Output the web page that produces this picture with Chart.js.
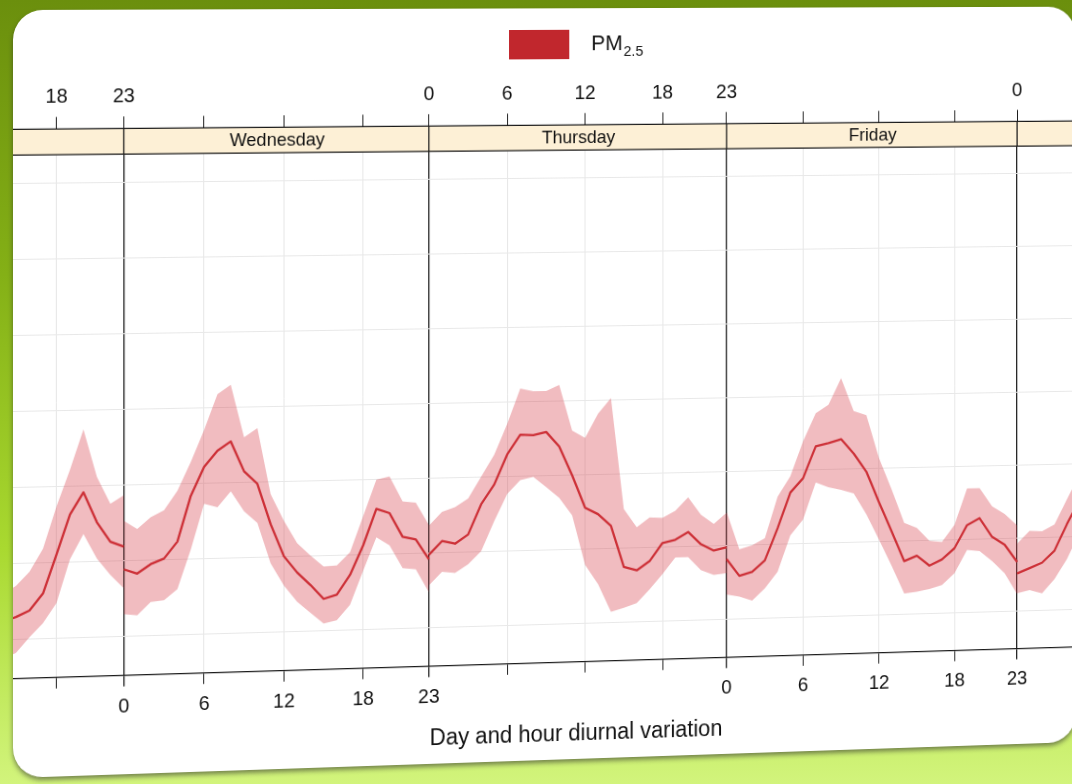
<!DOCTYPE html>
<html>
<head>
<meta charset="utf-8">
<script src="https://cdn.jsdelivr.net/npm/chart.js@4.4.1/dist/chart.umd.min.js"></script>
<style>
  html, body { margin: 0; padding: 0; width: 1072px; height: 784px; overflow: hidden; }
  body {
    position: relative;
    background: linear-gradient(to bottom, #6b8f0d 0%, #84b016 35%, #a9d930 70%, #d2f47c 100%);
  }
  #card {
    position: absolute; left: 13px; top: 10px; width: 1112px; height: 768px;
    background: #fff; border-radius: 30px; overflow: hidden;
    transform-origin: 0 394px;
    transform: perspective(1500px) rotateY(3.44deg) skewY(-1.08deg);
    box-shadow: 0 3px 5px rgba(40, 40, 40, 0.55);
  }
  #wrap { position: absolute; left: 0; top: 0; width: 1156px; height: 768px; }
</style>
</head>
<body>
<div id="card"><div id="wrap"><canvas id="grafico"></canvas></div></div>
<script>
// days shown left to right (Tuesday and Saturday are cut off by the frame)
const days = ['Tuesday', 'Wednesday', 'Thursday', 'Friday', 'Saturday'];
const hourTicks = [0, 6, 12, 18, 23];
const yGrid = [10, 20, 30, 40, 50, 60, 70];

const tueHours = [14, 15, 16, 17, 18, 19, 20, 21, 22, 23];
const tueMean  = [12.4, 13.0, 13.8, 16.0, 21.1, 26.3, 29.2, 25.2, 22.6, 21.9];
const tueUpper = [16.0, 17.1, 18.9, 21.9, 27.4, 32.2, 37.5, 31.2, 27.6, 28.7];
const tueLower = [7.5, 8.3, 10.3, 12.1, 14.7, 20.4, 23.7, 20.4, 18.2, 16.4];

const fullHours = [0, 1, 2, 3, 4, 5, 6, 7, 8, 9, 10, 11, 12, 13, 14, 15, 16, 17, 18, 19, 20, 21, 22, 23];

const wedMean  = [18.9, 18.3, 19.5, 20.2, 22.4, 28.4, 32.2, 34.3, 35.5, 31.5, 29.8, 24.4, 20.1, 17.9, 16.2, 14.3, 14.8, 17.4, 21.3, 26.1, 25.5, 22.3, 21.9, 19.2];
const wedUpper = [25.3, 24.2, 25.7, 26.6, 29.1, 32.9, 37.1, 41.8, 43.0, 36.0, 37.2, 28.4, 24.8, 21.8, 20.1, 18.6, 18.7, 20.4, 25.2, 30.0, 30.4, 27.0, 26.8, 23.8];
const wedLower = [13.0, 12.8, 14.5, 14.7, 16.1, 21.3, 27.3, 26.8, 28.9, 26.2, 24.6, 19.2, 16.2, 14.0, 12.5, 11.0, 11.4, 13.4, 17.9, 22.3, 21.2, 18.1, 17.9, 14.8];

const thuMean  = [19.8, 21.6, 21.2, 22.4, 26.4, 29.0, 33.0, 35.6, 35.5, 35.9, 33.9, 30.0, 25.6, 24.7, 23.1, 17.5, 17.0, 18.2, 20.6, 21.0, 22.0, 20.3, 19.4, 19.8];
const thuUpper = [23.7, 25.5, 26.1, 27.2, 30.1, 33.0, 37.1, 41.8, 41.4, 41.4, 42.2, 36.0, 35.0, 38.2, 40.3, 25.3, 22.8, 24.1, 24.0, 24.9, 26.7, 24.3, 23.0, 24.5];
const thuLower = [15.7, 17.5, 17.3, 18.4, 20.1, 24.1, 27.7, 29.5, 29.9, 28.5, 27.0, 24.6, 17.9, 15.3, 11.5, 12.0, 12.6, 14.4, 16.4, 18.6, 18.6, 16.8, 16.1, 16.3];

const friMean  = [18.2, 15.9, 16.4, 17.9, 22.2, 27.0, 28.9, 33.2, 33.6, 34.1, 32.1, 29.6, 25.4, 21.4, 17.3, 18.0, 16.6, 17.4, 18.9, 22.0, 22.9, 20.3, 19.2, 16.8];
const friUpper = [24.6, 19.5, 20.0, 20.9, 26.5, 29.2, 33.9, 37.7, 38.8, 42.4, 37.9, 37.3, 31.4, 27.1, 22.5, 21.8, 20.0, 19.8, 22.1, 27.0, 27.0, 24.5, 23.4, 21.8];
const friLower = [13.4, 13.1, 12.5, 14.1, 16.3, 21.2, 23.3, 28.3, 27.6, 27.2, 26.7, 23.8, 20.3, 16.7, 12.9, 13.1, 13.4, 13.9, 15.5, 18.6, 18.4, 17.0, 15.3, 12.4];

const satHours = [0, 1, 2, 3, 4, 5];
const satMean  = [15.2, 15.9, 16.6, 18.2, 21.8, 25.0];
const satUpper = [19.3, 21.0, 20.9, 21.8, 25.2, 28.5];
const satLower = [12.5, 12.9, 12.4, 14.3, 17.0, 20.5];

const panelSpan = 23;     // each day panel runs 0..23
const stripBase = 73.7;   // bottom of the day strip, in y units

const lineColor = '#c8282d';
const bandColor = 'rgba(214, 64, 74, 0.35)';

const panels = [
  { hours: tueHours,  mean: tueMean, upper: tueUpper, lower: tueLower },
  { hours: fullHours, mean: wedMean, upper: wedUpper, lower: wedLower },
  { hours: fullHours, mean: thuMean, upper: thuUpper, lower: thuLower },
  { hours: fullHours, mean: friMean, upper: friUpper, lower: friLower },
  { hours: satHours,  mean: satMean, upper: satUpper, lower: satLower }
];

const datasets = [];
panels.forEach((pn, p) => {
  const pts = arr => pn.hours.map((h, i) => ({ x: (p - 1) * panelSpan + h, y: arr[i] }));
  datasets.push({ label: 'upper', data: pts(pn.upper), borderColor: 'rgba(0,0,0,0)', borderWidth: 1, pointRadius: 0, fill: false });
  datasets.push({ label: 'lower', data: pts(pn.lower), borderColor: 'rgba(0,0,0,0)', borderWidth: 1, pointRadius: 0, fill: '-1', backgroundColor: bandColor });
  datasets.push({ label: 'PM2.5', data: pts(pn.mean), borderColor: lineColor, borderWidth: 2.3, pointRadius: 0, fill: false, borderJoinStyle: 'round' });
});

const tickValues = [];
days.forEach((d, p) => hourTicks.forEach(h => {
  const v = (p - 1) * panelSpan + h;
  if (!tickValues.includes(v)) tickValues.push(v);
}));

// lattice style: top axis labels the even panels, bottom axis the odd ones
function tickLabel(v, top) {
  const p = Math.floor(v / panelSpan) + 1;
  const h = v - (p - 1) * panelSpan;
  if (h === 0) {
    const prevEven = Math.abs(p - 1) % 2 === 0;
    if (top) return prevEven ? '23' : '0';
    return prevEven ? '0' : '23';
  }
  const even = Math.abs(p) % 2 === 0;
  return top === even ? String(h) : '';
}

const xMin = -8.215;
const xMax = 76.95;

function setTicks(scale) {
  scale.ticks = tickValues.filter(v => v >= scale.min && v <= scale.max).map(v => ({ value: v }));
}

const stripPlugin = {
  id: 'strip',
  beforeDatasetsDraw(chart) {
    const { ctx, chartArea: a, scales } = chart;
    const x = scales.x, y = scales.y;
    const bottom = y.getPixelForValue(stripBase);
    ctx.save();
    ctx.beginPath();
    ctx.rect(a.left, a.top - 2, a.right - a.left, a.bottom - a.top + 4);
    ctx.clip();
    ctx.fillStyle = '#fdf0d6';
    ctx.fillRect(a.left, a.top, a.right - a.left, bottom - a.top);
    ctx.strokeStyle = '#1a1a1a';
    ctx.lineWidth = 1.3;
    ctx.beginPath();
    ctx.moveTo(a.left, a.top); ctx.lineTo(a.right, a.top);
    ctx.moveTo(a.left, bottom); ctx.lineTo(a.right, bottom);
    days.forEach((d, p) => {
      const px = x.getPixelForValue(p * panelSpan);
      ctx.moveTo(px, a.top); ctx.lineTo(px, bottom);
    });
    ctx.stroke();
    ctx.fillStyle = '#111';
    ctx.font = '18.5px "Liberation Sans", Arial, sans-serif';
    ctx.textAlign = 'center';
    ctx.textBaseline = 'middle';
    days.forEach((d, p) => {
      const px = x.getPixelForValue((p - 1) * panelSpan + panelSpan / 2);
      ctx.fillText(d, px, (a.top + bottom) / 2 + 1);
    });
    ctx.restore();
  }
};

const legendPlugin = {
  id: 'pmLegend',
  afterDraw(chart) {
    const ctx = chart.ctx;
    const cx = chart.width / 2;
    ctx.save();
    ctx.fillStyle = '#c1272d';
    ctx.fillRect(cx - 71, 22, 63, 30);
    ctx.fillStyle = '#111';
    ctx.textBaseline = 'middle';
    ctx.textAlign = 'left';
    ctx.font = '22px "Liberation Sans", Arial, sans-serif';
    ctx.fillText('PM', cx + 15, 37);
    const w = ctx.measureText('PM').width;
    ctx.font = '15px "Liberation Sans", Arial, sans-serif';
    ctx.fillText('2.5', cx + 15 + w + 1, 45);
    ctx.restore();
  }
};

Chart.defaults.font.family = '"Liberation Sans", Arial, sans-serif';
Chart.defaults.color = '#111';

new Chart(document.getElementById('grafico').getContext('2d'), {
  type: 'line',
  data: { datasets },
  options: {
    responsive: true,
    maintainAspectRatio: false,
    animation: false,
    devicePixelRatio: 1,
    layout: { autoPadding: false, padding: { top: 68.3, left: 0, right: 0, bottom: 0 } },
    plugins: { legend: { display: false }, tooltip: { enabled: false } },
    elements: { line: { tension: 0 } },
    scales: {
      x: {
        type: 'linear', position: 'bottom', min: xMin, max: xMax,
        afterBuildTicks: setTicks,
        ticks: { autoSkip: false, maxRotation: 0, padding: 8.5, font: { size: 20 }, callback: v => tickLabel(v, false) },
        grid: {
          color: c => (c.tick && c.tick.value % panelSpan === 0) ? '#1a1a1a' : '#e6e6e6',
          lineWidth: c => (c.tick && c.tick.value % panelSpan === 0) ? 1.3 : 1,
          tickColor: '#1a1a1a', tickLength: 11, drawTicks: true
        },
        border: { display: true, color: '#1a1a1a', width: 1.3 },
        title: { display: true, text: 'Day and hour diurnal variation', font: { size: 23 }, color: '#111', padding: { top: 8.2, bottom: 11.4 } }
      },
      x2: {
        type: 'linear', position: 'top', min: xMin, max: xMax,
        afterBuildTicks: setTicks,
        ticks: { autoSkip: false, maxRotation: 0, padding: 7.5, font: { size: 20 }, callback: v => tickLabel(v, true) },
        grid: { drawOnChartArea: false, tickColor: '#1a1a1a', tickLength: 12 },
        border: { display: true, color: '#1a1a1a', width: 1.3 }
      },
      y: {
        type: 'linear', min: 4.9, max: 77.1,
        afterBuildTicks: scale => { scale.ticks = yGrid.map(v => ({ value: v })); },
        ticks: { display: false },
        grid: { color: '#e8e8e8', drawTicks: false },
        border: { display: false }
      }
    }
  },
  plugins: [stripPlugin, legendPlugin]
});
</script>
</body>
</html>
